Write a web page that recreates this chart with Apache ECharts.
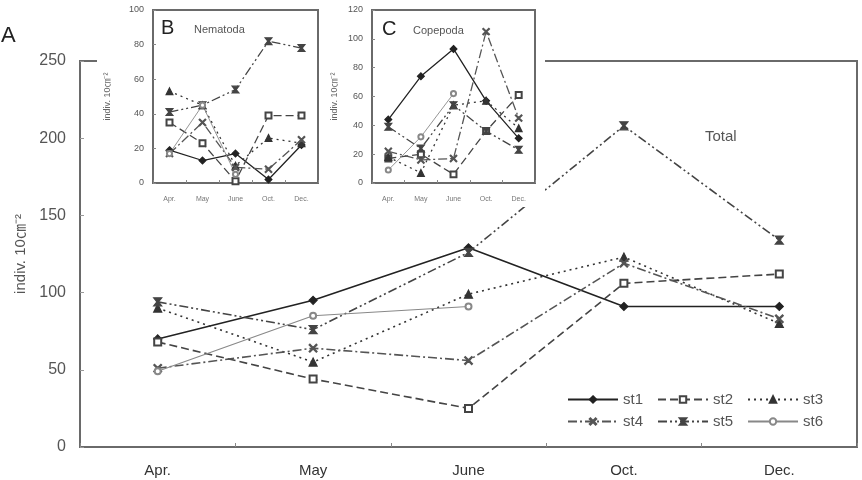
<!DOCTYPE html>
<html>
<head>
<meta charset="utf-8">
<script src="https://cdn.jsdelivr.net/npm/echarts@6/dist/echarts.min.js"></script>
<style>
  html, body { margin: 0; padding: 0; background: #fff; }
  #main { width: 862px; height: 480px; }
</style>
</head>
<body>
<div id="main"></div>
<script>
// sampling months
var months = ['Apr.', 'May', 'June', 'Oct.', 'Dec.'];
var stations = ['st1', 'st2', 'st3', 'st4', 'st5', 'st6'];

// A - total
var totalSt1 = [70, 95, 129, 91, 91];
var totalSt2 = [68, 44, 25, 106, 112];
var totalSt3 = [90, 55, 99, 123, 80];
var totalSt4 = [51, 64, 56, 119, 83];
var totalSt5 = [94, 76, 126, 208, 134];
var totalSt6 = [49, 85, 91, null, null];

// B - Nematoda
var nemaSt1 = [19, 13, 17, 2, 22];
var nemaSt2 = [35, 23, 1, 39, 39];
var nemaSt3 = [53, 45, 10, 26, 23];
var nemaSt4 = [17, 35, 9, 8, 25];
var nemaSt5 = [41, 45, 54, 82, 78];
var nemaSt6 = [17, 45, 5, null, null];

// C - Copepoda
var copeSt1 = [44, 74, 93, 57, 31];
var copeSt2 = [17, 20, 6, 36, 61];
var copeSt3 = [18, 7, 54, 57, 38];
var copeSt4 = [22, 16, 17, 105, 45];
var copeSt5 = [39, 24, 54, 36, 23];
var copeSt6 = [9, 32, 62, null, null];

var totalTicks = [0, 50, 100, 150, 200, 250];
var nemaTicks = [0, 20, 40, 60, 80, 100];
var copeTicks = [0, 20, 40, 60, 80, 100, 120];

var crossPath = 'path://M0,1L1,0L5,4L9,0L10,1L6,5L10,9L9,10L5,6L1,10L0,9L4,5Z';
var hourglassPath = 'path://M0,0L10,0L6,5L10,10L0,10L4,5Z';

// look of each station line
var looks = {
  st1: { color: '#222', width: 1.6, dash: 'solid', symbol: 'diamond', size: 8 },
  st2: { color: '#444', width: 1.6, dash: [8, 4], symbol: 'emptyRect', size: 7 },
  st3: { color: '#333', width: 1.6, dash: [2, 4], symbol: 'triangle', size: 8 },
  st4: { color: '#555', width: 1.6, dash: [9, 3, 2, 3], symbol: crossPath, size: 8 },
  st5: { color: '#444', width: 1.6, dash: [9, 3, 2, 3, 2, 3], symbol: hourglassPath, size: 8 },
  st6: { color: '#888', width: 1.1, dash: 'solid', symbol: 'emptyCircle', size: 6 }
};

var mySeries = [];
function addSeries(name, data, idx, z, scale) {
  var lk = looks[name];
  mySeries.push({
    name: name,
    type: 'line',
    xAxisIndex: idx,
    yAxisIndex: idx,
    data: data,
    z: z,
    symbol: lk.symbol,
    symbolSize: lk.size * scale,
    showSymbol: true,
    connectNulls: false,
    animation: false,
    lineStyle: { color: lk.color, width: lk.width * (scale < 1 ? 0.8 : 1), type: lk.dash },
    itemStyle: { color: lk.color, borderColor: lk.color, borderWidth: 1.2 }
  });
}

var totals = [totalSt1, totalSt2, totalSt3, totalSt4, totalSt5, totalSt6];
var nemas = [nemaSt1, nemaSt2, nemaSt3, nemaSt4, nemaSt5, nemaSt6];
var copes = [copeSt1, copeSt2, copeSt3, copeSt4, copeSt5, copeSt6];
stations.forEach(function (s, i) {
  addSeries(s, totals[i], 0, 2, 1);
});
stations.forEach(function (s, i) {
  addSeries(s, nemas[i], 1, 8, 0.85);
  addSeries(s, copes[i], 2, 8, 0.85);
});

var fontF = 'Arial, "Liberation Sans", "Noto Sans CJK JP", sans-serif';
var yName = 'indiv. 10㎝⁻²';

function insetX(idx) {
  return {
    type: 'category', gridIndex: idx, data: months, boundaryGap: true, z: 7,
    axisLine: { show: false },
    axisTick: { show: true, inside: true, length: 3, lineStyle: { color: '#888' } },
    axisLabel: { fontSize: 7, color: '#777', margin: 13, fontFamily: fontF }
  };
}
function insetY(idx, max, gap) {
  return {
    type: 'value', gridIndex: idx, min: 0, max: max, interval: 20, z: 7,
    name: yName, nameLocation: 'middle', nameGap: gap, nameRotate: 90,
    nameTextStyle: { fontSize: 9, color: '#666', fontFamily: fontF },
    axisLine: { show: false },
    splitLine: { show: false },
    axisTick: { show: true, inside: true, length: 3, lineStyle: { color: '#888' } },
    axisLabel: { fontSize: 9, color: '#555', margin: 9, fontFamily: fontF }
  };
}

var myChart = echarts.init(document.getElementById('main'), null, { renderer: 'canvas' });
var option = {
  backgroundColor: '#fff',
  animation: false,
  grid: [
    { left: 80, top: 61, width: 777, height: 386, show: true, borderColor: '#6a6a6a', borderWidth: 2, z: 0 },
    { left: 153, top: 10, width: 165, height: 173, show: true, borderColor: '#6a6a6a', borderWidth: 2, backgroundColor: '#fff', z: 6 },
    { left: 372, top: 10, width: 163, height: 173, show: true, borderColor: '#6a6a6a', borderWidth: 2, backgroundColor: '#fff', z: 6 }
  ],
  xAxis: [
    {
      type: 'category', gridIndex: 0, data: months, boundaryGap: true,
      axisLine: { show: false },
      axisTick: { show: true, inside: true, length: 4, lineStyle: { color: '#888' } },
      axisLabel: { fontSize: 15, color: '#333', margin: 16, fontFamily: fontF }
    },
    insetX(1),
    insetX(2)
  ],
  yAxis: [
    {
      type: 'value', gridIndex: 0, min: 0, max: 250, interval: 50,
      name: yName, nameLocation: 'middle', nameGap: 48, nameRotate: 90,
      nameTextStyle: { fontSize: 15, color: '#555', fontFamily: fontF },
      axisLine: { show: false },
      splitLine: { show: false },
      axisTick: { show: true, inside: true, length: 4, lineStyle: { color: '#999' } },
      axisLabel: { fontSize: 16, color: '#555', margin: 14, fontFamily: fontF }
    },
    insetY(1, 100, 41),
    insetY(2, 120, 33)
  ],
  legend: [
    {
      data: ['st1', 'st2', 'st3'], left: 562, top: 387, itemWidth: 50, itemHeight: 8, itemGap: 14,
      textStyle: { fontSize: 15, color: '#555', fontFamily: fontF }, selectedMode: false
    },
    {
      data: ['st4', 'st5', 'st6'], left: 562, top: 409, itemWidth: 50, itemHeight: 8, itemGap: 14,
      textStyle: { fontSize: 15, color: '#555', fontFamily: fontF }, selectedMode: false
    }
  ],
  graphic: [
    // white patch behind the two insets
    { type: 'rect', z: 5, shape: { x: 97, y: 0, width: 448, height: 207 }, style: { fill: '#fff' } },
    { type: 'text', z: 20, left: 1, top: 25, style: { text: 'A', fontSize: 22, fill: '#222', fontFamily: fontF } },
    { type: 'text', z: 20, left: 161, top: 18, style: { text: 'B', fontSize: 20, fill: '#222', fontFamily: fontF } },
    { type: 'text', z: 20, left: 194, top: 24, style: { text: 'Nematoda', fontSize: 11, fill: '#555', fontFamily: fontF } },
    { type: 'text', z: 20, left: 382, top: 19, style: { text: 'C', fontSize: 20, fill: '#222', fontFamily: fontF } },
    { type: 'text', z: 20, left: 413, top: 25, style: { text: 'Copepoda', fontSize: 11, fill: '#555', fontFamily: fontF } },
    { type: 'text', z: 20, left: 705, top: 129, style: { text: 'Total', fontSize: 15, fill: '#555', fontFamily: fontF } }
  ],
  series: mySeries
};
myChart.setOption(option);
</script>
</body>
</html>
